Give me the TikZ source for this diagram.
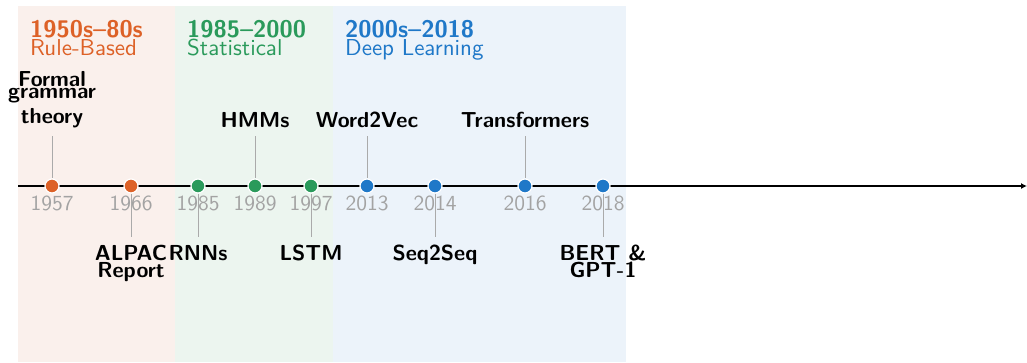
\documentclass[tikz,border=0pt]{standalone}
\usepackage{fontspec}
\setsansfont{lmsans10-regular.otf}[BoldFont=lmsans10-bold.otf]
\usetikzlibrary{arrows.meta}
\definecolor{orangec}{HTML}{DD6127}
\definecolor{greenc}{HTML}{2A9A5B}
\definecolor{bluec}{HTML}{1F78C8}
\definecolor{pinkband}{HTML}{FAF0EC}
\definecolor{greenband}{HTML}{ECF5EF}
\definecolor{blueband}{HTML}{ECF3FA}
\definecolor{yeargray}{HTML}{A3A3A3}
\definecolor{stemgray}{HTML}{AAAAAA}
\begin{document}
\begin{tikzpicture}[x=1pt,y=-1pt,
  every node/.style={font=\sffamily},
  era/.style={anchor=base west, inner sep=0, text=#1, font=\sffamily\bfseries\fontsize{24}{24}\selectfont},
  erasub/.style={anchor=base west, inner sep=0, text=#1, font=\sffamily\fontsize{23}{23}\selectfont},
  yearlab/.style={anchor=base, inner sep=0, text=yeargray, font=\sffamily\fontsize{21.5}{21.5}\selectfont},
  evt/.style={align=center, inner xsep=0, inner ysep=8pt, font=\sffamily\bfseries\fontsize{21.7}{17}\selectfont},
  evtup/.style={evt, anchor=south},
  evtdown/.style={evt, anchor=north},
  dot/.style={circle, fill=#1, draw=white, line width=1.2pt, minimum size=14pt, inner sep=0},
  stem/.style={draw=stemgray, line width=0.9pt},
  axis/.style={line width=1.8pt, -{Latex[length=6pt,width=6pt]}}]
\useasboundingbox (0,0) rectangle (1027,362);
% era bands
\fill[pinkband] (18,6) rectangle (175,362);
\fill[greenband] (175,6) rectangle (333,362);
\fill[blueband] (333,6) rectangle (626,362);
% era headings
\node[era=orangec] (h1) at (30,37) {1950s--80s};
\node[erasub=orangec] (s1) at (30,55) {Rule-Based};
\node[era=greenc] (h2) at (187,37) {1985--2000};
\node[erasub=greenc] (s2) at (187,55) {Statistical};
\node[era=bluec] (h3) at (345,37) {2000s--2018};
\node[erasub=bluec] (s3) at (345,55) {Deep Learning};
% axis
\coordinate (axstart) at (18,186);
\coordinate (axend) at (1027,186);
\draw[axis] (axstart) -- (axend);
% years
\node[yearlab] (y1957) at (52,210) {1957};
\node[yearlab] (y1966) at (131,210) {1966};
\node[yearlab] (y1985) at (198,210) {1985};
\node[yearlab] (y1989) at (255,210) {1989};
\node[yearlab] (y1997) at (311,210) {1997};
\node[yearlab] (y2013) at (367,210) {2013};
\node[yearlab] (y2014) at (435,210) {2014};
\node[yearlab] (y2016) at (525,210) {2016};
\node[yearlab] (y2018) at (603,210) {2018};
% dots
\node[dot=orangec] (d1957) at (52,186) {};
\node[dot=orangec] (d1966) at (131,186) {};
\node[dot=greenc] (d1985) at (198,186) {};
\node[dot=greenc] (d1989) at (255,186) {};
\node[dot=greenc] (d1997) at (311,186) {};
\node[dot=bluec] (d2013) at (367,186) {};
\node[dot=bluec] (d2014) at (435,186) {};
\node[dot=bluec] (d2016) at (525,186) {};
\node[dot=bluec] (d2018) at (603,186) {};
% events above
\node[evtup] (e1957) at (52,136) {Formal\\[-5pt]grammar\\[4pt]theory};
\node[evtup] (e1989) at (255,136) {HMMs};
\node[evtup] (e2013) at (367,136) {Word2Vec};
\node[evtup] (e2016) at (525,136) {Transformers};
% events below
\node[evtdown] (e1966) at (131,237) {ALPAC\\Report};
\node[evtdown] (e1985) at (198,237) {RNNs};
\node[evtdown] (e1997) at (311,237) {LSTM};
\node[evtdown] (e2014) at (435,237) {Seq2Seq};
\node[evtdown] (e2018) at (603,237) {BERT \&\\GPT-1};
% stems
\draw[stem] (e1957.south) -- (d1957);
\draw[stem] (e1989.south) -- (d1989);
\draw[stem] (e2013.south) -- (d2013);
\draw[stem] (e2016.south) -- (d2016);
\draw[stem] (d1966) -- (e1966.north);
\draw[stem] (d1985) -- (e1985.north);
\draw[stem] (d1997) -- (e1997.north);
\draw[stem] (d2014) -- (e2014.north);
\draw[stem] (d2018) -- (e2018.north);
\end{tikzpicture}
\end{document}
